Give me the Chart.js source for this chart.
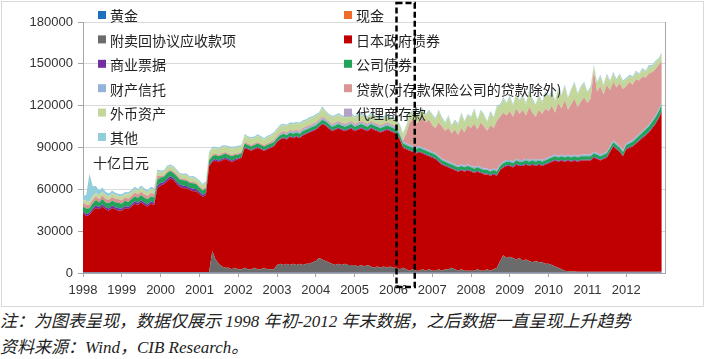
<!DOCTYPE html>
<html>
<head>
<meta charset="utf-8">
<script src="https://cdn.jsdelivr.net/npm/chart.js@4.4.1/dist/chart.umd.min.js"></script>
<style>
html, body { margin: 0; padding: 0; background: #fff; }
body { width: 709px; height: 359px; position: relative; overflow: hidden; }
#frame { position: absolute; left: 1px; top: 1px; width: 703px; height: 306px; border: 1px solid #d9d9d9; box-sizing: border-box; }
#wrap { position: absolute; left: 0; top: 0; width: 709px; height: 308px; }
.note { position: absolute; left: 0; font-family: "Liberation Serif", "Noto Sans CJK SC", serif; font-style: italic; font-size: 17px; color: #222; white-space: nowrap; line-height: 20px; }
</style>
</head>
<body>
<div id="frame"></div>
<div id="wrap"><canvas id="bojChart" width="709" height="308"></canvas></div>
<div class="note" style="top:312px">注：为图表呈现，数据仅展示 1998 年初-2012 年末数据，之后数据一直呈现上升趋势</div>
<div class="note" style="top:338px">资料来源：Wind，CIB Research。</div>
<script>
// monthly, Jan 1998 - Dec 2012, 十亿日元
const years = [1998, 1999, 2000, 2001, 2002, 2003, 2004, 2005, 2006, 2007, 2008, 2009, 2010, 2011, 2012];
const yTicks = [0, 30000, 60000, 90000, 120000, 150000, 180000];
const unitLabel = '十亿日元';

const seriesNames = ['黄金', '现金', '附卖回协议应收款项', '日本政府债券', '商业票据', '公司债券',
    '财产信托', '贷款(对存款保险公司的贷款除外)', '外币资产', '代理商存款', '其他'];
const seriesColors = ['#1f6fc0', '#f26a2a', '#6b6b6b', '#c00000', '#7030a0', '#22a35a',
    '#95b3d7', '#d99694', '#c4d79b', '#b3a2c7', '#92cddc'];

const gold = [
    441,441,441,441,441,441,441,441,441,441,441,441,
    441,441,441,441,441,441,441,441,441,441,441,441,
    441,441,441,441,441,441,441,441,441,441,441,441,
    441,441,441,441,441,441,441,441,441,441,441,441,
    441,441,441,441,441,441,441,441,441,441,441,441,
    441,441,441,441,441,441,441,441,441,441,441,441,
    441,441,441,441,441,441,441,441,441,441,441,441,
    441,441,441,441,441,441,441,441,441,441,441,441,
    441,441,441,441,441,441,441,441,441,441,441,441,
    441,441,441,441,441,441,441,441,441,441,441,441,
    441,441,441,441,441,441,441,441,441,441,441,441,
    441,441,441,441,441,441,441,441,441,441,441,441,
    441,441,441,441,441,441,441,441,441,441,441,441,
    441,441,441,441,441,441,441,441,441,441,441,441,
    441,441,441,441,441,441,441,441,441,441,441,441
];

const cash = [
    250,250,250,250,250,250,250,250,250,250,250,250,
    250,250,250,250,250,250,250,250,250,250,250,250,
    250,250,250,250,250,250,250,250,250,250,250,250,
    250,250,250,250,250,250,250,250,250,250,250,250,
    250,250,250,250,250,250,250,250,250,250,250,250,
    250,250,250,250,250,250,250,250,250,250,250,250,
    250,250,250,250,250,250,250,250,250,250,250,250,
    250,250,250,250,250,250,250,250,250,250,250,250,
    250,250,250,250,250,250,250,250,250,250,250,250,
    250,250,250,250,250,250,250,250,250,250,250,250,
    250,250,250,250,250,250,250,250,250,250,250,250,
    250,250,250,250,250,250,250,250,250,250,250,250,
    250,250,250,250,250,250,250,250,250,250,250,250,
    250,250,250,250,250,250,250,250,250,250,250,250,
    250,250,250,250,250,250,250,250,250,250,250,250
];

const repo = [
    0,0,0,0,0,0,0,0,0,0,0,0,
    0,0,0,0,0,0,0,0,0,0,0,0,
    0,0,0,0,0,0,0,0,0,0,0,0,
    0,0,0,0,15000,9000,6000,4000,3000,3000,2000,3000,
    2000,2000,3000,2000,2000,3000,2000,2000,3000,2000,2000,2000,
    5000,6000,5000,6000,5000,6000,5000,6000,5000,6000,6000,7000,
    8000,10000,9000,8000,7000,6000,5000,6000,5000,6000,5000,5000,
    5000,4000,5000,4000,5000,4000,3000,4000,3000,4000,3000,4000,
    3000,3000,2000,3000,2000,1000,2000,1000,1000,2000,1000,2000,
    1000,1000,2000,1000,2000,2000,3000,2000,1000,2000,1000,1000,
    1000,1000,2000,1000,1000,2000,1000,2000,3000,8000,12000,10000,
    11000,10000,9000,10000,8000,9000,8000,7000,8000,7000,7000,6000,
    6000,5000,4000,3000,2000,1000,500,300,300,200,200,200,
    200,200,200,200,200,200,200,200,200,200,200,200,
    200,200,200,200,200,200,200,200,200,200,200,200
];

const jgb = [
    42000,40000,41000,44000,46000,45000,47000,45000,44000,46000,45000,44000,
    44000,46000,45000,47000,49000,48000,50000,48000,47000,49000,48000,60000,
    62000,63000,65000,67000,66000,63000,61000,60000,60000,59000,58000,58000,
    56000,54000,55000,76000,64000,71000,73000,76000,78000,77000,77000,77000,
    79000,80000,86000,86000,85000,85000,87000,86000,84000,86000,87000,88000,
    88000,89000,91000,89000,92000,90000,92000,90000,93000,93000,94000,94000,
    94000,94000,97000,97000,96000,95000,97000,97000,97000,95000,97000,98000,
    96000,98000,98000,98000,96000,99000,99000,97000,97000,97000,99000,97000,
    97000,96000,93000,86000,86000,86000,84000,84000,85000,83000,83000,81000,
    81000,80000,77000,76000,74000,73000,71000,71000,71000,71000,71000,72000,
    71000,70000,70000,70000,69000,68000,68000,68000,66000,65000,63000,66000,
    65000,65000,68000,66000,68000,68000,68000,70000,68000,70000,69000,71000,
    72000,74000,76000,76000,78000,78000,79500,78700,79700,78800,79800,79800,
    79800,79800,81800,80800,79800,80800,81800,85800,89800,87800,85800,82800,
    87800,88800,89800,91800,93800,95800,97800,99800,102800,105800,109800,114800
];

const cp = [
    1500,1700,1400,1600,1800,1500,1700,1400,1600,1800,1500,1700,
    1600,1400,1700,1500,1800,1600,1400,1700,1500,1800,1600,2000,
    1800,1600,1900,1700,1500,1800,1600,1900,1700,1500,1800,1600,
    1500,1400,1600,1000,1000,1000,1000,1000,1000,1000,1000,1000,
    600,600,600,600,600,600,600,600,600,600,600,600,
    600,600,600,600,600,600,600,600,600,600,600,600,
    600,600,600,600,600,600,600,600,600,600,600,600,
    600,600,600,600,600,600,600,600,600,600,600,600,
    600,600,600,600,600,600,600,600,600,600,600,600,
    600,600,600,600,600,600,600,600,600,600,600,600,
    600,600,600,600,600,600,600,600,600,600,600,600,
    600,600,600,600,600,600,600,600,600,600,600,600,
    600,600,600,600,600,600,600,600,600,600,600,600,
    600,600,600,600,600,600,600,600,600,600,600,600,
    600,600,600,600,600,600,600,600,600,600,600,600
];

const corp = [
    3500,3800,3300,3600,3900,3400,3700,3500,3800,3300,3600,3900,
    3400,3700,3500,3800,3300,3600,3900,3500,3700,3400,3800,4200,
    4000,3700,4100,3800,3500,3900,3600,4000,3700,3400,3800,3500,
    3200,3000,3300,3000,3000,3000,3000,3000,3000,3000,3000,3000,
    2500,2500,2500,2500,2500,2500,2500,2500,2500,2500,2500,2500,
    2500,2500,2500,2500,2500,2500,2500,2500,2500,2500,2500,2500,
    2500,2500,2500,2500,2500,2500,2500,2500,2500,2500,2500,2500,
    2500,2500,2500,2500,2500,2500,2500,2500,2500,2500,2500,2500,
    2500,2500,2500,2500,2500,2500,2500,2500,2500,2500,2500,2500,
    2500,2500,2500,2500,2500,2500,2500,2500,2500,2500,2500,2500,
    2500,2500,2500,2500,2500,2500,2500,2500,2500,2500,2500,2500,
    2500,2500,2500,2500,2500,2500,2500,2500,2500,2500,2500,2500,
    2500,2500,2500,2500,2500,2500,2500,2500,2500,2500,2500,2500,
    2500,2500,2500,2500,2500,2500,2500,2500,2500,2500,2500,2500,
    2500,2600,2800,3000,3200,3400,3600,3800,4000,4200,4400,4600
];

const trust = [
    0,0,0,0,0,0,0,0,0,0,0,0,
    0,0,0,0,0,0,0,0,0,0,0,0,
    0,0,0,0,0,0,0,0,0,0,0,0,
    0,0,0,0,0,0,0,0,0,0,0,0,
    0,0,0,0,0,0,0,0,0,0,300,500,
    600,700,800,900,1000,1100,1200,1200,1200,1200,1200,1200,
    1200,1200,1200,1200,1200,1200,1200,1200,1200,1200,1200,1200,
    1200,1200,1200,1200,1200,1200,1200,1200,1200,1200,1200,1200,
    1200,1200,1200,1200,1200,1200,1200,1200,1200,1200,1200,1200,
    1200,1200,1200,1200,1200,1200,1200,1200,1200,1200,1200,1200,
    1200,1200,1200,1200,1200,1200,1200,1200,1200,1200,1200,1200,
    1200,1200,1200,1200,1200,1200,1200,1200,1200,1200,1200,1200,
    1200,1200,1200,1200,1200,1200,1200,1200,1200,1200,1200,1200,
    1200,1200,1200,1200,1200,1200,1200,1200,1200,1200,1200,1200,
    1200,1200,1200,1200,1200,1200,1200,1200,1200,1200,1200,1200
];

const loans = [
    2500,2700,2400,2600,2500,2300,2600,2400,2500,2700,2400,2600,
    2500,2300,2600,2400,2700,2500,2300,2600,2400,2500,2700,2800,
    1200,1000,1100,900,1000,1200,1000,900,1100,1000,1200,1000,
    1000,1100,900,1000,1200,1000,900,1100,1000,1000,1100,900,
    1000,1000,1000,1000,1000,1000,1000,1000,1000,1000,1000,1000,
    1000,1000,1000,1000,1000,1000,1000,1000,1000,1000,1000,1000,
    1000,1000,1000,1000,1000,1000,1000,1000,1000,1000,1000,1000,
    1000,1000,1000,1000,1000,1000,1000,1000,1000,1000,1000,1000,
    1000,1000,1000,1000,7000,16000,19000,17000,18000,21000,19000,22000,
    19000,18000,24000,23000,21000,24000,21000,25000,22000,26000,24000,28000,
    27000,31000,26000,32000,30000,27000,32000,29000,35000,34000,35000,32000,
    35000,32000,36000,33000,36000,31000,38000,33000,31000,35000,33000,36000,
    33000,36000,30000,38000,33000,40000,32000,37000,40000,35000,38000,41000,
    37000,40000,58000,44000,49000,42000,48000,40000,42000,40000,45000,44000,
    41000,42900,39700,41500,38300,39100,35900,36700,34500,33300,32100,29900
];

const fx = [
    2500,2800,2300,2600,2400,2900,2500,2700,2300,2600,2800,2400,
    2600,2400,2800,2500,2700,2300,2900,2600,2400,2800,2500,3000,
    2800,2600,3000,2700,2900,2500,2800,2600,3000,2700,2900,2600,
    2800,2600,3000,4000,4500,3800,4200,4600,3900,4300,4700,4100,
    4400,3900,4800,4200,4500,4000,4700,4300,3800,4500,4200,4600,
    4100,4800,4300,4600,4000,4700,4200,4900,4400,4100,4600,4300,
    4800,4200,6500,4500,4100,4700,4300,4600,4000,4500,4200,4800,
    4300,4700,4100,4600,4200,4800,4400,4000,4500,4300,4700,4100,
    4500,4200,4600,4300,5000,5000,6000,5000,6000,6000,5000,6000,
    7000,6000,8000,6000,5000,8000,5000,6000,7000,10000,7000,7000,
    7000,10000,6000,8000,8000,6000,9000,7000,10000,8000,10000,8000,
    10000,8000,10000,9000,10000,8000,11000,9000,8000,10000,8000,11000,
    10000,10000,8000,10000,9000,10000,8000,10000,11000,9000,10000,10000,
    7000,8000,3000,6000,7000,6000,7000,6000,6000,5000,6000,5000,
    5000,4000,5000,5000,4000,5000,4000,5000,4000,5000,4000,5000
];

const agency = [
    100,100,100,100,100,100,100,100,100,100,100,100,
    100,100,100,100,100,100,100,100,100,100,100,100,
    100,100,100,100,100,100,100,100,100,100,100,100,
    100,100,100,100,100,100,100,100,100,100,100,100,
    100,100,100,100,100,100,100,100,100,100,100,100,
    100,100,100,100,100,100,100,100,100,100,100,100,
    100,100,100,100,100,100,100,100,100,100,100,100,
    100,100,100,100,100,100,100,100,100,100,100,100,
    100,100,100,100,100,100,100,100,100,100,100,100,
    100,100,100,100,100,100,100,100,100,100,100,100,
    100,100,100,100,100,100,100,100,100,100,100,100,
    100,100,100,100,100,100,100,100,100,100,100,100,
    100,100,100,100,100,100,100,100,100,100,100,100,
    100,100,100,100,100,100,100,100,100,100,100,100,
    100,100,100,100,100,100,100,100,100,100,100,100
];

const other = [
    3000,4000,20000,7000,5000,3500,3000,2500,2000,2000,1500,1500,
    1500,1500,1500,1500,1500,1500,1500,1500,1500,1500,1500,1500,
    1000,1000,1000,1000,1000,1000,1000,1000,1000,1000,1000,1000,
    1000,1000,1000,1000,1000,1000,1000,1000,1000,1000,1000,1000,
    1000,1000,1000,1000,1000,1000,1000,1000,1000,1000,1000,1000,
    1000,1000,1000,1000,1000,1000,1000,1000,1000,1000,1000,1000,
    1000,1000,1000,1000,1000,1000,1000,1000,1000,1000,1000,1000,
    1000,1000,1000,1000,1000,1000,1000,1000,1000,1000,1000,1000,
    1000,1000,1000,1000,1000,1000,1000,1000,1000,1000,1000,1000,
    1000,1000,1000,1000,1000,1000,1000,1000,1000,1000,1000,1000,
    1000,1000,1000,1000,1000,1000,1000,1000,1000,1000,1000,1000,
    1000,1000,1000,1000,1000,1000,1000,1000,1000,1000,1000,1000,
    1000,1000,1000,1000,1000,1000,1000,1000,1000,1000,1000,1000,
    1000,1000,1000,1000,1000,1000,1000,1000,1000,1000,1000,1000,
    1000,1000,1000,1000,1000,1000,1000,1000,1000,1000,1000,1000
];

// stacking order = legend order (bottom to top)
const seriesData = [gold, cash, repo, jgb, cp, corp, trust, loans, fx, agency, other];

const datasets = seriesData.map((arr, k) => ({
    label: seriesNames[k],
    data: arr.map((v, i) => ({ x: years[0] + i / 12, y: v })),
    backgroundColor: seriesColors[k],
    borderWidth: 0,
    pointRadius: 0,
    fill: k === 0 ? 'origin' : '-1'
}));

// legend, unit, plot border and the dashed 2006 box
const overlay = {
    id: 'overlay',
    afterDraw(chart) {
        const { ctx, chartArea: a, scales: { x } } = chart;
        ctx.save();
        ctx.strokeStyle = '#a6a6a6';
        ctx.lineWidth = 1;
        ctx.beginPath();
        ctx.moveTo(a.right + 0.5, a.top);
        ctx.lineTo(a.right + 0.5, a.bottom);
        ctx.stroke();

        ctx.font = '14px "Noto Sans CJK SC"';
        ctx.textBaseline = 'middle';
        seriesNames.forEach((name, k) => {
            const mx = k % 2 ? 344 : 98;
            const my = 15 + Math.floor(k / 2) * 24.4;
            ctx.fillStyle = seriesColors[k];
            ctx.fillRect(mx, my - 4, 8, 8);
            ctx.fillStyle = '#222';
            ctx.fillText(name, mx + 12, my + 1);
        });
        ctx.fillText(unitLabel, 93, 163);

        const x0 = x.getPixelForValue(2006.08);
        const x1 = x.getPixelForValue(2006.55);
        ctx.setLineDash([6, 3]);
        ctx.lineWidth = 2.5;
        ctx.strokeStyle = '#000';
        ctx.strokeRect(x0, a.top - 19, x1 - x0, a.bottom - a.top + 33);
        ctx.restore();
    }
};

new Chart(document.getElementById('bojChart'), {
    type: 'line',
    data: { datasets },
    plugins: [overlay],
    options: {
        responsive: false,
        animation: false,
        layout: { padding: { top: 22, right: 44, left: 0, bottom: 0 } },
        plugins: { legend: { display: false }, tooltip: { enabled: false } },
        elements: { line: { tension: 0 } },
        scales: {
            x: {
                type: 'linear', min: 1998, max: 2013,
                afterFit: s => { s.height = 35; },
                afterBuildTicks: s => { s.ticks = years.map(v => ({ value: v })); },
                ticks: { color: '#333', font: { family: 'Liberation Sans', size: 13 }, padding: 6, maxRotation: 0, autoSkip: false, callback: v => String(v) },
                grid: { drawOnChartArea: false, tickLength: 4, color: '#a6a6a6' },
                border: { color: '#a6a6a6' }
            },
            y: {
                stacked: true, min: 0, max: 180000,
                afterFit: s => { s.width = 83; },
                afterBuildTicks: s => { s.ticks = yTicks.map(v => ({ value: v })); },
                ticks: { color: '#333', font: { family: 'Liberation Sans', size: 13 }, padding: 5, callback: v => String(v) },
                grid: { color: '#d9d9d9', tickColor: '#a6a6a6', tickLength: 5 },
                border: { color: '#a6a6a6' }
            }
        }
    }
});
</script>
</body>
</html>
